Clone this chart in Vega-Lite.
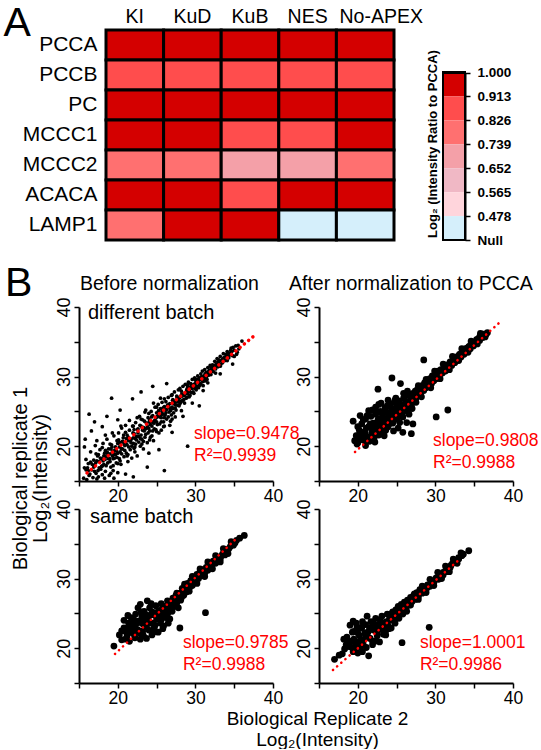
{
  "$schema": "https://vega.github.io/schema/vega-lite/v6.json",
  "padding": {"left": 3, "top": 2, "right": 0, "bottom": 0},
  "config": {
    "font": "Liberation Sans",
    "view": {"stroke": null},
    "axis": {"grid": false, "labelColor": "black", "titleColor": "black", "domainColor": "black", "tickColor": "black", "labelFont": "Liberation Sans", "titleFont": "Liberation Sans", "labelOverlap": false},
    "title": {"color": "black", "fontWeight": "normal", "font": "Liberation Sans"},
    "text": {"font": "Liberation Sans"}
  },
  "datasets": {
    "heat": [
      {"gene":"PCCA","cond":"KI","level":"0.913-1.000"},{"gene":"PCCA","cond":"KuD","level":"0.913-1.000"},{"gene":"PCCA","cond":"KuB","level":"0.913-1.000"},{"gene":"PCCA","cond":"NES","level":"0.913-1.000"},{"gene":"PCCA","cond":"No-APEX","level":"0.913-1.000"},
      {"gene":"PCCB","cond":"KI","level":"0.826-0.913"},{"gene":"PCCB","cond":"KuD","level":"0.826-0.913"},{"gene":"PCCB","cond":"KuB","level":"0.826-0.913"},{"gene":"PCCB","cond":"NES","level":"0.826-0.913"},{"gene":"PCCB","cond":"No-APEX","level":"0.826-0.913"},
      {"gene":"PC","cond":"KI","level":"0.913-1.000"},{"gene":"PC","cond":"KuD","level":"0.913-1.000"},{"gene":"PC","cond":"KuB","level":"0.913-1.000"},{"gene":"PC","cond":"NES","level":"0.913-1.000"},{"gene":"PC","cond":"No-APEX","level":"0.913-1.000"},
      {"gene":"MCCC1","cond":"KI","level":"0.913-1.000"},{"gene":"MCCC1","cond":"KuD","level":"0.913-1.000"},{"gene":"MCCC1","cond":"KuB","level":"0.826-0.913"},{"gene":"MCCC1","cond":"NES","level":"0.826-0.913"},{"gene":"MCCC1","cond":"No-APEX","level":"0.913-1.000"},
      {"gene":"MCCC2","cond":"KI","level":"0.739-0.826"},{"gene":"MCCC2","cond":"KuD","level":"0.739-0.826"},{"gene":"MCCC2","cond":"KuB","level":"0.652-0.739"},{"gene":"MCCC2","cond":"NES","level":"0.652-0.739"},{"gene":"MCCC2","cond":"No-APEX","level":"0.739-0.826"},
      {"gene":"ACACA","cond":"KI","level":"0.913-1.000"},{"gene":"ACACA","cond":"KuD","level":"0.913-1.000"},{"gene":"ACACA","cond":"KuB","level":"0.826-0.913"},{"gene":"ACACA","cond":"NES","level":"0.913-1.000"},{"gene":"ACACA","cond":"No-APEX","level":"0.913-1.000"},
      {"gene":"LAMP1","cond":"KI","level":"0.739-0.826"},{"gene":"LAMP1","cond":"KuD","level":"0.913-1.000"},{"gene":"LAMP1","cond":"KuB","level":"0.913-1.000"},{"gene":"LAMP1","cond":"NES","level":"Null"},{"gene":"LAMP1","cond":"No-APEX","level":"Null"}
    ],
    "legend": [
      {"level":"0.913-1.000","lo":0.913,"hi":1.0},
      {"level":"0.826-0.913","lo":0.826,"hi":0.913},
      {"level":"0.739-0.826","lo":0.739,"hi":0.826},
      {"level":"0.652-0.739","lo":0.652,"hi":0.739},
      {"level":"0.565-0.652","lo":0.565,"hi":0.652},
      {"level":"0.478-0.565","lo":0.478,"hi":0.565},
      {"level":"Null","lo":0.391,"hi":0.478}
    ],
    "tl": [
      {"x":15.6,"y":15.4},{"x":15.7,"y":16.9},{"x":15.9,"y":18.1},{"x":16.0,"y":15.2},{"x":16.2,"y":17.5},{"x":16.3,"y":15.8},{"x":16.5,"y":19.2},{"x":16.6,"y":16.6},{"x":16.8,"y":15.5},{"x":16.9,"y":18.0},
      {"x":17.0,"y":17.2},{"x":17.1,"y":20.1},{"x":17.2,"y":16.1},{"x":17.4,"y":18.6},{"x":17.5,"y":15.6},{"x":17.6,"y":17.8},{"x":17.7,"y":19.5},{"x":17.8,"y":16.7},{"x":17.9,"y":18.2},{"x":18.0,"y":15.9},
      {"x":18.1,"y":20.4},{"x":18.2,"y":17.4},{"x":18.3,"y":19.0},{"x":18.4,"y":16.4},{"x":18.5,"y":18.5},{"x":18.6,"y":21.0},{"x":18.7,"y":17.6},{"x":18.8,"y":19.6},{"x":18.9,"y":15.8},{"x":19.0,"y":18.9},
      {"x":19.1,"y":17.0},{"x":19.2,"y":20.2},{"x":19.3,"y":19.3},{"x":19.4,"y":16.5},{"x":19.5,"y":21.5},{"x":19.6,"y":18.3},{"x":19.7,"y":19.9},{"x":19.8,"y":17.6},{"x":19.9,"y":20.8},{"x":20.0,"y":19.0},
      {"x":20.0,"y":16.2},{"x":20.1,"y":21.9},{"x":20.2,"y":18.2},{"x":20.3,"y":20.5},{"x":20.4,"y":17.4},{"x":20.5,"y":22.6},{"x":20.6,"y":19.6},{"x":20.7,"y":21.2},{"x":20.8,"y":18.5},{"x":20.9,"y":20.1},
      {"x":21.0,"y":23.0},{"x":21.1,"y":19.0},{"x":21.2,"y":21.6},{"x":21.3,"y":17.8},{"x":21.4,"y":20.8},{"x":21.5,"y":22.3},{"x":21.6,"y":19.5},{"x":21.7,"y":21.0},{"x":21.8,"y":18.3},{"x":21.9,"y":22.9},
      {"x":22.0,"y":20.4},{"x":22.1,"y":21.8},{"x":22.2,"y":19.2},{"x":22.3,"y":23.4},{"x":22.4,"y":20.9},{"x":22.5,"y":18.6},{"x":22.6,"y":22.5},{"x":22.7,"y":21.4},{"x":22.8,"y":24.3},{"x":22.9,"y":20.0},
      {"x":23.0,"y":22.9},{"x":23.1,"y":21.0},{"x":23.2,"y":23.8},{"x":23.3,"y":19.6},{"x":23.4,"y":22.2},{"x":23.5,"y":24.9},{"x":23.6,"y":21.7},{"x":23.7,"y":23.3},{"x":23.8,"y":20.5},{"x":23.9,"y":24.1},
      {"x":24.0,"y":22.6},{"x":24.1,"y":23.8},{"x":24.2,"y":21.3},{"x":24.3,"y":25.0},{"x":24.4,"y":22.9},{"x":24.5,"y":24.4},{"x":24.6,"y":20.8},{"x":24.7,"y":23.6},{"x":24.8,"y":25.6},{"x":24.9,"y":22.4},
      {"x":25.0,"y":24.8},{"x":25.1,"y":23.1},{"x":25.2,"y":26.0},{"x":25.3,"y":21.9},{"x":25.4,"y":24.2},{"x":25.5,"y":25.4},{"x":25.6,"y":23.5},{"x":25.7,"y":26.3},{"x":25.8,"y":24.6},{"x":25.9,"y":22.8},
      {"x":26.0,"y":25.7},{"x":26.1,"y":24.5},{"x":26.2,"y":26.4},{"x":26.3,"y":23.9},{"x":26.4,"y":25.9},{"x":26.5,"y":27.0},{"x":26.6,"y":24.9},{"x":26.7,"y":26.1},{"x":26.8,"y":23.6},{"x":26.9,"y":27.3},
      {"x":27.0,"y":25.6},{"x":27.1,"y":26.7},{"x":27.2,"y":24.8},{"x":27.3,"y":27.8},{"x":27.4,"y":26.0},{"x":27.5,"y":25.2},{"x":27.6,"y":27.2},{"x":27.7,"y":26.4},{"x":27.8,"y":28.1},{"x":27.9,"y":25.8},
      {"x":28.0,"y":27.0},{"x":28.1,"y":26.3},{"x":28.2,"y":27.9},{"x":28.3,"y":27.2},{"x":28.4,"y":28.6},{"x":28.5,"y":26.7},{"x":28.6,"y":27.6},{"x":28.7,"y":28.9},{"x":28.8,"y":26.9},{"x":28.9,"y":28.2},
      {"x":29.0,"y":27.5},{"x":29.1,"y":29.2},{"x":29.2,"y":28.0},{"x":29.3,"y":27.3},{"x":29.4,"y":29.0},{"x":29.5,"y":28.4},{"x":29.6,"y":29.6},{"x":29.7,"y":27.8},{"x":29.8,"y":28.9},{"x":29.9,"y":29.8},
      {"x":30.0,"y":28.3},{"x":30.1,"y":29.5},{"x":30.2,"y":28.6},{"x":30.3,"y":30.1},{"x":30.4,"y":29.1},{"x":30.5,"y":29.8},{"x":30.6,"y":28.8},{"x":30.7,"y":30.4},{"x":30.8,"y":29.5},{"x":30.9,"y":30.8},
      {"x":31.0,"y":29.3},{"x":31.1,"y":30.1},{"x":31.2,"y":31.0},{"x":31.3,"y":29.8},{"x":31.4,"y":30.6},{"x":31.5,"y":29.6},{"x":31.6,"y":31.3},{"x":31.7,"y":30.2},{"x":31.8,"y":30.9},{"x":31.9,"y":31.6},
      {"x":32.0,"y":30.3},{"x":32.1,"y":31.0},{"x":32.2,"y":31.7},{"x":32.3,"y":30.7},{"x":32.4,"y":31.4},{"x":32.5,"y":32.2},{"x":32.6,"y":31.1},{"x":32.7,"y":31.8},{"x":32.8,"y":32.6},{"x":32.9,"y":31.4},
      {"x":33.0,"y":32.0},{"x":33.2,"y":32.9},{"x":33.3,"y":31.8},{"x":33.5,"y":32.5},{"x":33.6,"y":33.3},{"x":33.8,"y":32.3},{"x":34.0,"y":33.0},{"x":34.1,"y":33.6},{"x":34.3,"y":32.7},{"x":34.5,"y":33.4},
      {"x":34.6,"y":34.1},{"x":34.8,"y":33.0},{"x":35.0,"y":33.8},{"x":35.2,"y":34.4},{"x":35.4,"y":33.5},{"x":35.6,"y":34.0},{"x":36.0,"y":35.1},
      {"x":16.1,"y":16.9},{"x":16.4,"y":16.0},{"x":16.7,"y":17.4},{"x":17.0,"y":16.4},{"x":17.3,"y":17.9},{"x":17.6,"y":16.9},{"x":17.9,"y":17.1},{"x":18.2,"y":18.6},{"x":18.5,"y":17.2},{"x":18.8,"y":18.2},
      {"x":19.1,"y":19.6},{"x":19.4,"y":18.2},{"x":19.7,"y":18.8},{"x":20.0,"y":20.4},{"x":20.3,"y":19.2},{"x":20.6,"y":20.7},{"x":20.9,"y":19.4},{"x":21.2,"y":20.2},{"x":21.5,"y":21.0},{"x":21.8,"y":20.0},
      {"x":22.1,"y":22.4},{"x":22.4,"y":21.4},{"x":22.7,"y":20.6},{"x":23.0,"y":21.6},{"x":23.3,"y":22.7},{"x":23.6,"y":22.5},{"x":23.9,"y":21.9},{"x":24.2,"y":23.1},{"x":24.5,"y":22.2},{"x":24.8,"y":23.8},
      {"x":25.1,"y":24.3},{"x":25.4,"y":23.2},{"x":25.7,"y":25.0},{"x":26.0,"y":24.1},{"x":26.3,"y":25.3},{"x":26.6,"y":25.6},{"x":26.9,"y":24.5},{"x":27.2,"y":26.1},{"x":27.5,"y":26.6},{"x":27.8,"y":26.8},
      {"x":28.1,"y":27.2},{"x":28.4,"y":26.6},{"x":28.7,"y":27.6},{"x":29.0,"y":28.5},{"x":29.3,"y":28.4},{"x":29.6,"y":28.3},{"x":29.9,"y":28.9},{"x":30.2,"y":29.6},{"x":30.5,"y":28.7},{"x":30.8,"y":30.0},
      {"x":31.1,"y":29.7},{"x":31.4,"y":29.9},{"x":31.7,"y":30.7},{"x":32.0,"y":31.3},{"x":32.3,"y":31.2},{"x":32.6,"y":30.5},{"x":32.9,"y":32.1},{"x":33.2,"y":31.5},{"x":33.5,"y":32.0},{"x":33.8,"y":32.8},
      {"x":34.1,"y":32.3},{"x":34.4,"y":33.1},{"x":34.7,"y":33.6},{"x":35.0,"y":32.9},{"x":35.3,"y":33.2},{"x":35.5,"y":34.5},
      {"x":18.1,"y":17.9},{"x":18.4,"y":19.4},{"x":18.7,"y":18.7},{"x":19.0,"y":17.8},{"x":19.3,"y":18.6},{"x":19.6,"y":19.4},{"x":19.9,"y":18.4},{"x":20.2,"y":19.9},{"x":20.5,"y":18.9},{"x":20.8,"y":20.4},
      {"x":21.1,"y":21.1},{"x":21.4,"y":19.9},{"x":21.7,"y":20.5},{"x":22.0,"y":21.2},{"x":22.3,"y":20.3},{"x":22.6,"y":21.9},{"x":22.9,"y":21.1},{"x":23.2,"y":22.3},{"x":23.5,"y":21.3},{"x":23.8,"y":22.9},
      {"x":24.1,"y":22.2},{"x":24.4,"y":23.5},{"x":24.7,"y":22.5},{"x":25.0,"y":23.5},{"x":25.3,"y":24.6},{"x":25.6,"y":24.1},{"x":25.9,"y":23.5},{"x":26.2,"y":24.8},{"x":26.5,"y":24.2},{"x":26.8,"y":25.1},
      {"x":27.1,"y":25.4},{"x":27.4,"y":25.5},{"x":27.7,"y":25.9},{"x":28.0,"y":26.1},{"x":28.3,"y":26.5},{"x":28.6,"y":26.2},{"x":28.9,"y":27.0},{"x":29.2,"y":27.1},{"x":29.5,"y":27.7},{"x":29.8,"y":27.6},
      {"x":30.1,"y":28.1},{"x":30.4,"y":28.4},{"x":30.7,"y":29.0},{"x":31.0,"y":28.7},{"x":31.3,"y":29.4},{"x":31.6,"y":29.1},{"x":19.0,"y":20.3},{"x":20.1,"y":20.9},{"x":21.0,"y":22.0},{"x":22.0,"y":22.9},
      {"x":23.0,"y":23.9},{"x":24.0,"y":24.7},{"x":25.0,"y":25.6},{"x":26.0,"y":26.8},{"x":27.0,"y":27.4},{"x":28.0,"y":28.3},{"x":29.0,"y":28.8},{"x":30.0,"y":29.5},{"x":17.5,"y":18.8},{"x":18.0,"y":19.8},
      {"x":17.2,"y":18.9},{"x":16.9,"y":17.0},{"x":16.5,"y":17.7},{"x":16.2,"y":16.5},{"x":15.9,"y":16.6},{"x":21.3,"y":18.8},{"x":22.1,"y":19.7},{"x":23.3,"y":20.7},{"x":24.4,"y":21.5},{"x":25.6,"y":22.3},
      {"x":26.7,"y":23.0},{"x":27.4,"y":24.2},{"x":28.2,"y":25.1},{"x":20.0,"y":17.5},{"x":19.1,"y":16.1},{"x":18.3,"y":15.4},
      {"x":17.15,"y":17.6},{"x":17.45,"y":16.5},{"x":17.75,"y":18.3},{"x":18.05,"y":17.2},{"x":18.35,"y":18.1},{"x":18.65,"y":19.1},{"x":18.95,"y":18.2},{"x":19.25,"y":19.9},{"x":19.55,"y":18.9},{"x":19.85,"y":19.3},
      {"x":20.15,"y":20.5},{"x":20.45,"y":19.6},{"x":20.75,"y":21.6},{"x":21.05,"y":20.4},{"x":21.35,"y":21.3},{"x":21.65,"y":20.9},{"x":21.95,"y":21.9},{"x":22.25,"y":21.1},{"x":22.55,"y":22.4},{"x":22.85,"y":23.0},
      {"x":23.15,"y":22.6},{"x":23.45,"y":23.6},{"x":23.75,"y":22.6},{"x":24.05,"y":23.5},{"x":24.35,"y":24.2},{"x":24.65,"y":23.3},{"x":24.95,"y":24.1},{"x":25.25,"y":25.1},{"x":25.55,"y":24.5},{"x":25.85,"y":25.5},
      {"x":26.15,"y":25.2},{"x":26.45,"y":25.9},{"x":26.75,"y":25.4},{"x":27.05,"y":26.6},{"x":27.35,"y":26.3},{"x":27.65,"y":27.0},{"x":27.95,"y":26.5},{"x":28.25,"y":27.5},{"x":28.55,"y":27.3},{"x":28.85,"y":27.9},
      {"x":29.15,"y":27.8},{"x":29.45,"y":28.7},{"x":29.75,"y":28.6},{"x":30.05,"y":29.1},{"x":30.35,"y":29.4},{"x":30.65,"y":29.6},{"x":30.95,"y":29.9},{"x":31.25,"y":30.4},{"x":31.55,"y":30.5},{"x":31.85,"y":30.6},
      {"x":32.15,"y":31.3},{"x":32.45,"y":31.6},{"x":32.75,"y":31.5},{"x":33.05,"y":32.4},{"x":33.35,"y":32.3},{"x":33.65,"y":32.7},{"x":33.95,"y":33.2},{"x":34.25,"y":33.3},{"x":34.55,"y":33.8},{"x":34.85,"y":34.2},
      {"x":19.4,"y":17.2},{"x":20.3,"y":17.9},{"x":21.2,"y":18.6},{"x":22.2,"y":19.9},{"x":23.1,"y":20.3},{"x":24.1,"y":20.9},{"x":25.0,"y":22.1},{"x":26.0,"y":22.9},{"x":27.0,"y":23.9},{"x":22.5,"y":24.1},
      {"x":23.6,"y":25.2},{"x":24.6,"y":26.2},{"x":25.5,"y":26.9},{"x":21.5,"y":23.7},{"x":20.4,"y":22.9},{"x":19.3,"y":21.9},{"x":18.4,"y":21.6},{"x":17.3,"y":20.8},
      {"x":16.3,"y":24.6},{"x":17.0,"y":23.5},{"x":15.8,"y":21.0},{"x":16.6,"y":22.2},{"x":18.6,"y":24.3},{"x":20.3,"y":25.2},{"x":23.0,"y":27.8},{"x":24.5,"y":28.6},{"x":27.0,"y":22.0},{"x":25.3,"y":19.5},
      {"x":23.8,"y":17.0},{"x":22.0,"y":15.6},{"x":21.0,"y":16.0},{"x":30.5,"y":25.8},{"x":28.4,"y":24.3},{"x":31.0,"y":28.0},{"x":33.2,"y":30.4},{"x":34.8,"y":31.8},{"x":19.5,"y":15.4},{"x":18.0,"y":22.8},
      {"x":15.7,"y":19.9},{"x":17.3,"y":15.3},{"x":26.3,"y":29.0},{"x":24.0,"y":19.0},{"x":20.0,"y":23.8},{"x":29.6,"y":26.2},{"x":19.2,"y":26.9},{"x":21.9,"y":26.8},{"x":29.0,"y":20.0},{"x":26.0,"y":16.5}
    ],
    "tr": [
      {"x":19.6,"y":20.8},{"x":19.8,"y":21.5},{"x":20.0,"y":20.5},{"x":20.2,"y":22.3},{"x":20.4,"y":21.2},{"x":20.5,"y":23.2},{"x":20.7,"y":20.9},{"x":20.9,"y":22.0},{"x":21.0,"y":23.9},{"x":21.2,"y":21.4},
      {"x":21.4,"y":22.8},{"x":21.5,"y":20.7},{"x":21.7,"y":24.3},{"x":21.8,"y":22.0},{"x":22.0,"y":23.3},{"x":22.1,"y":21.2},{"x":22.3,"y":24.6},{"x":22.4,"y":22.5},{"x":22.6,"y":23.8},{"x":22.7,"y":21.6},
      {"x":22.9,"y":25.0},{"x":23.0,"y":23.0},{"x":23.2,"y":24.2},{"x":23.3,"y":22.2},{"x":23.5,"y":25.5},{"x":23.6,"y":23.6},{"x":23.8,"y":24.8},{"x":23.9,"y":22.8},{"x":24.1,"y":25.9},{"x":24.2,"y":24.0},
      {"x":24.4,"y":25.2},{"x":24.5,"y":23.3},{"x":24.7,"y":26.3},{"x":24.8,"y":24.6},{"x":25.0,"y":25.6},{"x":25.1,"y":23.9},{"x":25.3,"y":26.5},{"x":25.4,"y":25.0},{"x":25.6,"y":26.0},{"x":25.7,"y":24.6},
      {"x":25.9,"y":26.9},{"x":26.0,"y":25.6},{"x":26.2,"y":26.4},{"x":26.3,"y":25.1},{"x":26.5,"y":27.3},{"x":26.6,"y":26.1},{"x":26.8,"y":27.0},{"x":26.9,"y":25.9},{"x":27.1,"y":27.6},{"x":27.2,"y":26.6},
      {"x":27.4,"y":27.9},{"x":27.5,"y":26.9},{"x":27.7,"y":28.2},{"x":27.8,"y":27.3},{"x":28.0,"y":28.6},{"x":28.1,"y":27.6},{"x":28.3,"y":28.7},{"x":28.5,"y":28.0},{"x":28.6,"y":29.1},{"x":28.8,"y":28.4},
      {"x":29.0,"y":29.5},{"x":29.1,"y":28.7},{"x":29.3,"y":29.7},{"x":29.5,"y":29.0},{"x":29.6,"y":30.1},{"x":29.8,"y":29.4},{"x":30.0,"y":30.4},{"x":30.1,"y":29.7},{"x":30.3,"y":30.8},{"x":30.5,"y":30.1},
      {"x":30.7,"y":31.0},{"x":30.9,"y":30.5},{"x":31.1,"y":31.3},{"x":31.3,"y":30.8},{"x":31.5,"y":31.7},{"x":31.7,"y":31.2},{"x":31.9,"y":32.1},{"x":32.1,"y":31.6},{"x":32.3,"y":32.5},{"x":32.5,"y":32.0},
      {"x":32.7,"y":32.8},{"x":32.9,"y":32.4},{"x":33.1,"y":33.2},{"x":33.3,"y":32.8},{"x":33.5,"y":33.6},{"x":33.7,"y":33.2},{"x":33.9,"y":34.0},{"x":34.1,"y":33.6},{"x":34.3,"y":34.3},{"x":34.5,"y":34.0},
      {"x":34.7,"y":34.7},{"x":34.9,"y":34.4},{"x":35.1,"y":35.0},{"x":35.3,"y":34.8},{"x":35.5,"y":35.4},{"x":35.7,"y":35.2},{"x":35.9,"y":35.8},{"x":36.1,"y":35.6},{"x":36.3,"y":36.1},{"x":36.5,"y":36.0},
      {"x":36.7,"y":36.3},{"x":21.0,"y":20.1},{"x":22.2,"y":20.6},{"x":23.4,"y":21.5},{"x":24.6,"y":22.2},{"x":25.2,"y":22.6},{"x":26.3,"y":23.4},{"x":23.0,"y":26.2},{"x":22.3,"y":25.6},{"x":21.4,"y":25.1},
      {"x":20.0,"y":21.5},{"x":20.6,"y":22.0},{"x":21.1,"y":22.6},{"x":21.6,"y":23.2},{"x":22.0,"y":22.0},{"x":22.5,"y":23.2},{"x":22.9,"y":24.0},{"x":23.3,"y":23.3},{"x":23.7,"y":24.0},{"x":24.1,"y":24.6},
      {"x":24.5,"y":24.2},{"x":24.9,"y":25.1},{"x":25.3,"y":24.5},{"x":25.7,"y":25.5},{"x":26.1,"y":26.0},{"x":26.5,"y":25.8},{"x":26.9,"y":26.6},{"x":27.3,"y":27.1},{"x":27.7,"y":27.6},{"x":28.1,"y":28.1},
      {"x":28.5,"y":28.5},{"x":28.9,"y":28.9},{"x":29.3,"y":29.3},{"x":29.7,"y":29.7},{"x":30.1,"y":30.1},{"x":30.5,"y":30.5},{"x":30.9,"y":30.9},{"x":31.3,"y":31.3},{"x":31.7,"y":31.7},{"x":32.1,"y":32.1},
      {"x":32.5,"y":32.5},{"x":32.9,"y":32.9},{"x":33.3,"y":33.3},{"x":33.7,"y":33.7},{"x":34.1,"y":34.1},{"x":34.5,"y":34.5},{"x":34.9,"y":34.9},{"x":35.3,"y":35.3},{"x":35.7,"y":35.7},{"x":36.1,"y":36.1},
      {"x":23.8,"y":25.8},{"x":24.8,"y":26.6},{"x":22.6,"y":24.9},{"x":21.8,"y":21.2},{"x":23.1,"y":22.1},
      {"x":20.2,"y":20.9},{"x":20.8,"y":21.6},{"x":21.3,"y":21.0},{"x":21.9,"y":22.7},{"x":22.4,"y":21.8},{"x":22.8,"y":22.9},{"x":23.2,"y":24.7},{"x":23.6,"y":22.3},{"x":24.0,"y":23.2},{"x":24.3,"y":25.5},
      {"x":24.7,"y":23.8},{"x":25.0,"y":24.9},{"x":25.4,"y":23.4},{"x":25.8,"y":24.2},{"x":26.2,"y":25.4},{"x":26.6,"y":24.6},{"x":27.0,"y":25.4},{"x":27.5,"y":26.3},{"x":21.2,"y":24.4},{"x":21.9,"y":25.2},
      {"x":22.7,"y":26.0},{"x":20.7,"y":23.8},{"x":20.0,"y":22.8},{"x":19.9,"y":20.3},{"x":24.9,"y":26.9},{"x":25.9,"y":27.6},{"x":23.9,"y":26.6},{"x":26.4,"y":27.9},{"x":27.8,"y":28.7},{"x":28.8,"y":29.6},
      {"x":29.9,"y":30.8},{"x":31.0,"y":31.8},{"x":32.2,"y":32.9},{"x":33.4,"y":34.0},{"x":34.6,"y":35.1},{"x":35.8,"y":36.2},{"x":28.2,"y":27.1},{"x":29.4,"y":28.4},{"x":30.6,"y":29.7},{"x":31.8,"y":31.0},
      {"x":33.0,"y":32.3},{"x":34.2,"y":33.5},{"x":35.4,"y":34.7},{"x":36.4,"y":35.7},
      {"x":28.5,"y":32.4},{"x":24.4,"y":29.8},{"x":22.6,"y":28.2},{"x":25.5,"y":29.0},{"x":31.6,"y":25.2},{"x":30.1,"y":24.2},{"x":27.1,"y":23.2},{"x":26.9,"y":21.8},{"x":19.4,"y":23.6},{"x":20.3,"y":24.4},
      {"x":25.8,"y":22.0}
    ],
    "bl": [
      {"x":19.5,"y":20.3},{"x":20.2,"y":21.9},{"x":20.5,"y":22.5},{"x":20.8,"y":24.0},{"x":21.0,"y":21.3},{"x":21.2,"y":22.8},{"x":21.4,"y":23.6},{"x":21.5,"y":21.0},{"x":21.7,"y":24.4},{"x":21.9,"y":22.2},
      {"x":22.0,"y":23.2},{"x":22.2,"y":21.5},{"x":22.3,"y":24.9},{"x":22.5,"y":22.7},{"x":22.6,"y":25.8},{"x":22.8,"y":23.7},{"x":22.9,"y":21.3},{"x":23.1,"y":24.5},{"x":23.2,"y":22.4},{"x":23.4,"y":25.3},
      {"x":23.5,"y":23.4},{"x":23.7,"y":21.4},{"x":23.8,"y":24.2},{"x":24.0,"y":22.6},{"x":24.1,"y":25.8},{"x":24.3,"y":23.6},{"x":24.4,"y":21.9},{"x":24.6,"y":24.8},{"x":24.7,"y":22.9},{"x":24.9,"y":26.1},
      {"x":25.0,"y":24.2},{"x":25.2,"y":22.3},{"x":25.3,"y":25.4},{"x":25.5,"y":23.6},{"x":25.6,"y":26.4},{"x":25.8,"y":24.8},{"x":25.9,"y":23.2},{"x":26.1,"y":25.9},{"x":26.2,"y":24.4},{"x":26.4,"y":26.8},
      {"x":26.5,"y":25.2},{"x":26.7,"y":24.2},{"x":26.8,"y":26.3},{"x":27.0,"y":25.3},{"x":27.1,"y":27.2},{"x":27.3,"y":26.0},{"x":27.5,"y":27.6},{"x":27.6,"y":26.5},{"x":27.8,"y":25.8},{"x":28.0,"y":27.9},
      {"x":28.1,"y":26.9},{"x":28.3,"y":28.6},{"x":28.5,"y":27.6},{"x":28.7,"y":28.9},{"x":28.9,"y":28.1},{"x":29.0,"y":29.3},{"x":29.2,"y":28.6},{"x":29.4,"y":29.7},{"x":29.6,"y":29.0},{"x":29.8,"y":30.2},
      {"x":30.0,"y":29.6},{"x":30.2,"y":30.6},{"x":30.4,"y":30.0},{"x":30.6,"y":31.0},{"x":30.8,"y":30.4},{"x":31.0,"y":31.3},{"x":31.2,"y":30.8},{"x":31.4,"y":31.6},{"x":31.6,"y":31.2},{"x":31.8,"y":32.0},
      {"x":32.0,"y":31.6},{"x":32.3,"y":32.5},{"x":32.6,"y":32.2},{"x":32.9,"y":33.0},{"x":33.2,"y":32.8},{"x":33.5,"y":33.5},{"x":33.8,"y":33.4},{"x":34.1,"y":34.2},{"x":34.5,"y":34.6},{"x":34.9,"y":34.8},
      {"x":35.3,"y":35.5},{"x":36.3,"y":36.2},
      {"x":20.5,"y":21.2},{"x":21.0,"y":22.4},{"x":21.5,"y":22.5},{"x":21.8,"y":23.5},{"x":22.2,"y":22.8},{"x":22.6,"y":23.9},{"x":23.0,"y":22.5},{"x":23.4,"y":24.1},{"x":23.7,"y":23.0},{"x":24.1,"y":24.7},
      {"x":24.5,"y":23.6},{"x":24.9,"y":25.1},{"x":25.3,"y":24.4},{"x":25.7,"y":25.6},{"x":26.1,"y":25.2},{"x":26.5,"y":26.0},{"x":26.9,"y":26.6},{"x":27.3,"y":26.9},{"x":27.7,"y":27.3},{"x":28.1,"y":27.8},
      {"x":28.5,"y":28.2},{"x":28.9,"y":28.7},{"x":29.3,"y":29.1},{"x":29.7,"y":29.5},{"x":30.1,"y":30.1},{"x":30.5,"y":30.5},{"x":30.9,"y":30.9},{"x":31.3,"y":31.2},{"x":31.7,"y":31.7},{"x":32.1,"y":32.0},
      {"x":32.5,"y":32.5},{"x":32.9,"y":32.8},{"x":33.3,"y":33.2},{"x":33.7,"y":33.8},{"x":34.3,"y":34.3},{"x":34.7,"y":34.9},{"x":35.1,"y":35.1},{"x":35.7,"y":35.8},{"x":22.0,"y":24.3},{"x":23.0,"y":25.2},
      {"x":24.3,"y":26.4},
      {"x":20.8,"y":22.9},{"x":21.2,"y":21.8},{"x":21.6,"y":23.1},{"x":22.1,"y":22.0},{"x":22.4,"y":23.6},{"x":22.8,"y":22.2},{"x":23.2,"y":23.5},{"x":23.6,"y":24.8},{"x":24.0,"y":23.9},{"x":24.4,"y":25.2},
      {"x":24.8,"y":23.3},{"x":25.2,"y":24.9},{"x":25.6,"y":24.1},{"x":26.0,"y":26.0},{"x":26.4,"y":24.9},{"x":26.8,"y":25.6},{"x":27.2,"y":26.5},{"x":23.3,"y":21.8},{"x":24.6,"y":22.3},{"x":25.8,"y":22.8},
      {"x":26.5,"y":23.6},{"x":21.3,"y":24.7},{"x":22.9,"y":26.3},{"x":23.8,"y":26.8},{"x":27.6,"y":27.9},{"x":28.6,"y":29.2},{"x":29.6,"y":30.3},{"x":30.6,"y":31.4},{"x":31.6,"y":32.4},{"x":32.6,"y":33.3},
      {"x":33.6,"y":34.3},{"x":34.6,"y":35.3},{"x":28.2,"y":27.3},{"x":29.2,"y":28.2},{"x":30.2,"y":29.3},{"x":31.2,"y":30.3},{"x":32.2,"y":31.4},{"x":33.2,"y":32.4},{"x":34.2,"y":33.6},
      {"x":31.3,"y":25.1},{"x":28.0,"y":22.9}
    ],
    "br": [
      {"x":17.0,"y":18.4},{"x":18.3,"y":19.9},{"x":18.6,"y":21.6},{"x":18.8,"y":20.3},{"x":19.0,"y":23.3},{"x":19.2,"y":21.0},{"x":19.4,"y":19.5},{"x":19.5,"y":22.4},{"x":19.7,"y":20.6},{"x":19.9,"y":23.0},
      {"x":20.0,"y":19.3},{"x":20.2,"y":21.8},{"x":20.3,"y":20.2},{"x":20.5,"y":22.9},{"x":20.6,"y":19.5},{"x":20.8,"y":21.2},{"x":21.0,"y":23.4},{"x":21.1,"y":20.1},{"x":21.3,"y":22.3},{"x":21.4,"y":18.9},
      {"x":21.6,"y":21.4},{"x":21.7,"y":23.8},{"x":21.9,"y":20.5},{"x":22.0,"y":22.6},{"x":22.2,"y":21.0},{"x":22.3,"y":24.3},{"x":22.5,"y":21.8},{"x":22.6,"y":23.2},{"x":22.8,"y":20.9},{"x":23.0,"y":22.7},
      {"x":23.1,"y":24.6},{"x":23.3,"y":22.0},{"x":23.4,"y":23.6},{"x":23.6,"y":22.5},{"x":23.8,"y":24.9},{"x":23.9,"y":23.2},{"x":24.1,"y":24.3},{"x":24.3,"y":22.9},{"x":24.5,"y":25.2},{"x":24.7,"y":24.0},
      {"x":24.9,"y":25.5},{"x":25.0,"y":24.4},{"x":25.2,"y":26.0},{"x":25.4,"y":25.0},{"x":25.6,"y":26.3},{"x":25.8,"y":25.4},{"x":26.0,"y":26.6},{"x":26.2,"y":25.8},{"x":26.4,"y":26.9},{"x":26.6,"y":26.2},
      {"x":26.8,"y":27.3},{"x":27.0,"y":26.7},{"x":27.2,"y":27.6},{"x":27.4,"y":27.0},{"x":27.6,"y":28.0},{"x":27.8,"y":27.4},{"x":28.0,"y":28.4},{"x":28.3,"y":27.9},{"x":28.5,"y":28.8},{"x":28.8,"y":28.4},
      {"x":29.0,"y":29.1},{"x":29.3,"y":28.9},{"x":29.5,"y":29.6},{"x":29.8,"y":29.4},{"x":30.1,"y":30.1},{"x":30.4,"y":29.9},{"x":30.7,"y":30.6},{"x":31.0,"y":30.5},{"x":31.3,"y":31.1},{"x":31.6,"y":31.0},
      {"x":31.9,"y":31.6},{"x":32.2,"y":32.2},{"x":32.6,"y":32.3},{"x":33.0,"y":33.0},{"x":33.4,"y":33.3},{"x":34.3,"y":34.0},
      {"x":18.5,"y":20.5},{"x":19.0,"y":20.2},{"x":19.5,"y":21.3},{"x":20.0,"y":22.2},{"x":20.4,"y":21.0},{"x":20.9,"y":22.2},{"x":21.4,"y":21.5},{"x":21.8,"y":22.9},{"x":22.3,"y":22.5},{"x":22.8,"y":23.5},
      {"x":23.2,"y":23.0},{"x":23.7,"y":23.8},{"x":24.2,"y":24.0},{"x":24.6,"y":24.5},{"x":25.1,"y":25.0},{"x":25.5,"y":25.6},{"x":26.0,"y":25.9},{"x":26.5,"y":26.5},{"x":27.0,"y":27.1},{"x":27.5,"y":27.5},
      {"x":28.0,"y":27.9},{"x":28.5,"y":28.4},{"x":29.0,"y":28.8},{"x":29.5,"y":29.4},{"x":30.0,"y":29.9},{"x":30.5,"y":30.3},{"x":31.0,"y":30.9},{"x":31.5,"y":31.4},{"x":32.0,"y":31.9},{"x":32.5,"y":32.5},
      {"x":33.0,"y":32.8},{"x":33.6,"y":33.5},{"x":19.8,"y":23.6},{"x":20.6,"y":23.8},{"x":21.2,"y":24.6},
      {"x":18.0,"y":19.2},{"x":18.9,"y":21.0},{"x":19.3,"y":22.3},{"x":19.6,"y":20.0},{"x":20.1,"y":20.9},{"x":20.4,"y":23.0},{"x":20.7,"y":20.5},{"x":21.0,"y":21.8},{"x":21.5,"y":22.9},{"x":21.9,"y":21.0},
      {"x":22.1,"y":23.5},{"x":22.5,"y":22.2},{"x":22.9,"y":24.1},{"x":23.3,"y":23.3},{"x":23.6,"y":21.9},{"x":24.0,"y":22.8},{"x":24.4,"y":25.0},{"x":24.8,"y":23.6},{"x":25.3,"y":24.3},{"x":25.8,"y":24.9},
      {"x":26.3,"y":25.3},{"x":19.4,"y":23.9},{"x":18.2,"y":21.3},{"x":17.6,"y":19.0},{"x":26.8,"y":26.2},{"x":27.8,"y":27.0},{"x":28.8,"y":28.0},{"x":29.8,"y":29.0},{"x":30.8,"y":30.0},{"x":31.8,"y":31.0},
      {"x":32.8,"y":32.2},{"x":27.3,"y":27.8},{"x":28.3,"y":28.9},{"x":29.3,"y":29.9},{"x":30.3,"y":30.9},{"x":31.3,"y":31.8},{"x":32.3,"y":32.8},{"x":33.3,"y":33.7},
      {"x":29.2,"y":23.0},{"x":25.7,"y":20.8}
    ],
    "tl_fit": [{"x":16.03,"y":16.15},{"x":37.55,"y":35.83}],
    "tr_fit": [{"x":19.64,"y":19.17},{"x":38.3,"y":37.8}],
    "bl_fit": [{"x":19.64,"y":19.17},{"x":35.49,"y":35.98}],
    "br_fit": [{"x":16.8,"y":16.87},{"x":33.17,"y":32.82}]
  },
  "vconcat": [
    {
      "width": 386,
      "height": 210,
      "title": {"text": "B", "orient": "bottom", "anchor": "start", "frame": "group", "dx": -74, "offset": 17, "fontSize": 41},
      "layer": [
        {
          "data": {"name": "heat"},
          "mark": {"type": "rect", "stroke": "black", "strokeWidth": 3},
          "encoding": {
            "x": {"field": "cond", "type": "nominal", "sort": ["KI","KuD","KuB","NES","No-APEX"],
                  "scale": {"range": [27, 315], "paddingInner": 0, "paddingOuter": 0},
                  "axis": {"orient": "top", "title": null, "labelAngle": 0, "domain": false, "ticks": false, "tickSize": 0, "labelFontSize": 19.5, "labelPadding": 4,
                           "labelOffset": {"condition": {"test": "datum.value === 'No-APEX'", "value": 16}, "value": 0}}},
            "y": {"field": "gene", "type": "nominal", "sort": ["PCCA","PCCB","PC","MCCC1","MCCC2","ACACA","LAMP1"],
                  "scale": {"range": [0, 210], "paddingInner": 0, "paddingOuter": 0},
                  "axis": {"orient": "left", "offset": -27, "domain": false, "ticks": false, "tickSize": 0, "labelFontSize": 21, "labelPadding": 9,
                           "title": "A", "titleAngle": 0, "titleAlign": "left", "titleBaseline": "alphabetic", "titleX": -103, "titleY": 5, "titleFontSize": 41, "titleFontWeight": "normal"}},
            "color": {"field": "level", "type": "nominal",
                      "scale": {"domain": ["0.913-1.000","0.826-0.913","0.739-0.826","0.652-0.739","0.565-0.652","0.478-0.565","Null"],
                                "range": ["#D40000","#FF4D4D","#FF7070","#F4A0A8","#F0B8C5","#FFD5DC","#D5EFFB"]},
                      "legend": null}
          }
        },
        {
          "data": {"name": "legend"},
          "layer": [
            {
              "mark": {"type": "rect"},
              "encoding": {
                "x": {"datum": 0, "type": "quantitative", "scale": {"domain": [0, 1], "range": [364, 386]}, "axis": null},
                "x2": {"datum": 1},
                "y": {"field": "lo", "type": "quantitative", "scale": {"domain": [0.391, 1.0], "range": [210, 42.5], "nice": false, "zero": false},
                      "axis": {"orient": "right", "values": [0.391,0.478,0.565,0.652,0.739,0.826,0.913,1.0], "tickCount": 20,
                               "labelExpr": "datum.value < 0.4 ? 'Null' : format(datum.value, '.3f')",
                               "labelFontSize": 13.5, "labelFontWeight": "bold", "labelPadding": 7, "labelOverlap": false, "labelBaseline": "middle",
                               "tickSize": 5, "tickWidth": 1.5, "domainWidth": 2,
                               "title": "Log₂ (Intensity Ratio to PCCA)", "titleAngle": 270, "titleAlign": "center", "titleBaseline": "middle",
                               "titleX": -33, "titleY": 113.5, "titleFontSize": 13, "titleFontWeight": "bold"}},
                "y2": {"field": "hi"},
                "color": {"field": "level", "type": "nominal", "legend": null}
              }
            },
            {
              "mark": {"type": "rect", "fillOpacity": 0, "stroke": "black", "strokeWidth": 2},
              "encoding": {
                "x": {"datum": 0, "type": "quantitative"},
                "x2": {"datum": 1},
                "y": {"datum": 0.391, "type": "quantitative"},
                "y2": {"datum": 1.0}
              }
            }
          ]
        }
      ],
      "resolve": {"scale": {"x": "independent", "y": "independent"}}
    },
    {
      "concat": [
        {
          "width": 194, "height": 174,
          "title": {"text": "Before normalization", "anchor": "start", "frame": "group", "fontSize": 19.5, "offset": 2, "dx": 1},
          "layer": [
            {
              "data": {"name": "tl"},
              "mark": {"type": "circle", "size": 14, "color": "black", "opacity": 1},
              "encoding": {
                "x": {"field": "x", "type": "quantitative", "scale": {"domain": [15, 40], "nice": false, "zero": false},
                      "axis": {"values": [15,20,25,30,35,40], "tickCount": 20, "labelExpr": "datum.value % 10 === 0 ? datum.label : ''", "labelFontSize": 17.5, "labelPadding": 1, "labelFlush": false, "labelOverlap": false, "tickSize": 5, "tickWidth": 1.5, "domainWidth": 2, "title": null}},
                "y": {"field": "y", "type": "quantitative", "scale": {"domain": [15, 40], "nice": false, "zero": false},
                      "axis": {"values": [15,20,25,30,35,40], "tickCount": 20, "labelExpr": "datum.value % 10 === 0 ? datum.label : ''", "labelAngle": 270, "labelAlign": "center", "labelBaseline": "bottom", "labelFontSize": 18, "labelPadding": 1, "labelOverlap": false, "tickSize": 5, "tickWidth": 1.5, "domainWidth": 2, "title": null}}
              }
            },
            {
              "data": {"name": "tl_fit"},
              "mark": {"type": "line", "color": "#FF0000", "strokeWidth": 3.5, "strokeDash": [0.1, 5.4], "strokeCap": "round"},
              "encoding": {"x": {"field": "x", "type": "quantitative"}, "y": {"field": "y", "type": "quantitative"}}
            },
            {
              "data": {"values": [{"t": "different batch"}]},
              "mark": {"type": "text", "align": "left", "baseline": "alphabetic", "fontSize": 20, "color": "black"},
              "encoding": {"x": {"datum": 16.16, "type": "quantitative"}, "y": {"datum": 38.28, "type": "quantitative"}, "text": {"field": "t"}}
            },
            {
              "data": {"values": [{"t": "slope=0.9478\nR²=0.9939"}]},
              "mark": {"type": "text", "align": "left", "baseline": "alphabetic", "fontSize": 17.5, "lineHeight": 22, "lineBreak": "\n", "color": "#FF0000"},
              "encoding": {"x": {"datum": 29.82, "type": "quantitative"}, "y": {"datum": 21.03, "type": "quantitative"}, "text": {"field": "t"}}
            }
          ]
        },
        {
          "width": 194, "height": 174,
          "title": {"text": "After normalization to PCCA", "anchor": "start", "frame": "group", "fontSize": 19.5, "offset": 2, "dx": -30},
          "layer": [
            {
              "data": {"name": "tr"},
              "mark": {"type": "circle", "size": 46, "color": "black", "opacity": 1},
              "encoding": {
                "x": {"field": "x", "type": "quantitative", "scale": {"domain": [15, 40], "nice": false, "zero": false},
                      "axis": {"values": [15,20,25,30,35,40], "tickCount": 20, "labelExpr": "datum.value % 10 === 0 ? datum.label : ''", "labelFontSize": 17.5, "labelPadding": 1, "labelFlush": false, "labelOverlap": false, "tickSize": 5, "tickWidth": 1.5, "domainWidth": 2, "title": null}},
                "y": {"field": "y", "type": "quantitative", "scale": {"domain": [15, 40], "nice": false, "zero": false},
                      "axis": {"values": [15,20,25,30,35,40], "tickCount": 20, "labelExpr": "datum.value % 10 === 0 ? datum.label : ''", "labelAngle": 270, "labelAlign": "center", "labelBaseline": "bottom", "labelFontSize": 18, "labelPadding": 1, "labelOverlap": false, "tickSize": 5, "tickWidth": 1.5, "domainWidth": 2, "title": null}}
              }
            },
            {
              "data": {"name": "tr_fit"},
              "mark": {"type": "line", "color": "#FF0000", "strokeWidth": 2.6, "strokeDash": [0.1, 5.4], "strokeCap": "round"},
              "encoding": {"x": {"field": "x", "type": "quantitative"}, "y": {"field": "y", "type": "quantitative"}}
            },
            {
              "data": {"values": [{"t": "slope=0.9808\nR²=0.9988"}]},
              "mark": {"type": "text", "align": "left", "baseline": "alphabetic", "fontSize": 17.5, "lineHeight": 22, "lineBreak": "\n", "color": "#FF0000"},
              "encoding": {"x": {"datum": 29.69, "type": "quantitative"}, "y": {"datum": 20.03, "type": "quantitative"}, "text": {"field": "t"}}
            }
          ]
        },
        {
          "width": 194, "height": 174,
          "layer": [
            {
              "data": {"name": "bl"},
              "mark": {"type": "circle", "size": 46, "color": "black", "opacity": 1},
              "encoding": {
                "x": {"field": "x", "type": "quantitative", "scale": {"domain": [15, 40], "nice": false, "zero": false},
                      "axis": {"values": [15,20,25,30,35,40], "tickCount": 20, "labelExpr": "datum.value % 10 === 0 ? datum.label : ''", "labelFontSize": 17.5, "labelPadding": 1, "labelFlush": false, "labelOverlap": false, "tickSize": 5, "tickWidth": 1.5, "domainWidth": 2,
                               "title": ["Biological Replicate 2", "Log₂(Intensity)"], "titleAngle": 0, "titleAlign": "center", "titleBaseline": "alphabetic", "titleX": 238, "titleY": 41, "titleFontSize": 19, "titleFontWeight": "normal", "titleLineHeight": 21}},
                "y": {"field": "y", "type": "quantitative", "scale": {"domain": [15, 40], "nice": false, "zero": false},
                      "axis": {"values": [15,20,25,30,35,40], "tickCount": 20, "labelExpr": "datum.value % 10 === 0 ? datum.label : ''", "labelAngle": 270, "labelAlign": "center", "labelBaseline": "bottom", "labelFontSize": 18, "labelPadding": 1, "labelOverlap": false, "tickSize": 5, "tickWidth": 1.5, "domainWidth": 2,
                               "title": ["Biological replicate 1", "Log₂(Intensity)"], "titleAngle": 270, "titleAlign": "center", "titleBaseline": "top", "titleX": -69, "titleY": -31, "titleFontSize": 20, "titleFontWeight": "normal", "titleLineHeight": 20}}
              }
            },
            {
              "data": {"name": "bl_fit"},
              "mark": {"type": "line", "color": "#FF0000", "strokeWidth": 2.6, "strokeDash": [0.1, 5.4], "strokeCap": "round"},
              "encoding": {"x": {"field": "x", "type": "quantitative"}, "y": {"field": "y", "type": "quantitative"}}
            },
            {
              "data": {"values": [{"t": "same batch"}]},
              "mark": {"type": "text", "align": "left", "baseline": "alphabetic", "fontSize": 20, "color": "black"},
              "encoding": {"x": {"datum": 16.42, "type": "quantitative"}, "y": {"datum": 37.99, "type": "quantitative"}, "text": {"field": "t"}}
            },
            {
              "data": {"values": [{"t": "slope=0.9785\nR²=0.9988"}]},
              "mark": {"type": "text", "align": "left", "baseline": "alphabetic", "fontSize": 17.5, "lineHeight": 22, "lineBreak": "\n", "color": "#FF0000"},
              "encoding": {"x": {"datum": 28.4, "type": "quantitative"}, "y": {"datum": 20.03, "type": "quantitative"}, "text": {"field": "t"}}
            }
          ]
        },
        {
          "width": 194, "height": 174,
          "layer": [
            {
              "data": {"name": "br"},
              "mark": {"type": "circle", "size": 46, "color": "black", "opacity": 1},
              "encoding": {
                "x": {"field": "x", "type": "quantitative", "scale": {"domain": [15, 40], "nice": false, "zero": false},
                      "axis": {"values": [15,20,25,30,35,40], "tickCount": 20, "labelExpr": "datum.value % 10 === 0 ? datum.label : ''", "labelFontSize": 17.5, "labelPadding": 1, "labelFlush": false, "labelOverlap": false, "tickSize": 5, "tickWidth": 1.5, "domainWidth": 2, "title": null}},
                "y": {"field": "y", "type": "quantitative", "scale": {"domain": [15, 40], "nice": false, "zero": false},
                      "axis": {"values": [15,20,25,30,35,40], "tickCount": 20, "labelExpr": "datum.value % 10 === 0 ? datum.label : ''", "labelAngle": 270, "labelAlign": "center", "labelBaseline": "bottom", "labelFontSize": 18, "labelPadding": 1, "labelOverlap": false, "tickSize": 5, "tickWidth": 1.5, "domainWidth": 2, "title": null}}
              }
            },
            {
              "data": {"name": "br_fit"},
              "mark": {"type": "line", "color": "#FF0000", "strokeWidth": 2.6, "strokeDash": [0.1, 5.4], "strokeCap": "round"},
              "encoding": {"x": {"field": "x", "type": "quantitative"}, "y": {"field": "y", "type": "quantitative"}}
            },
            {
              "data": {"values": [{"t": "slope=1.0001\nR²=0.9986"}]},
              "mark": {"type": "text", "align": "left", "baseline": "alphabetic", "fontSize": 17.5, "lineHeight": 22, "lineBreak": "\n", "color": "#FF0000"},
              "encoding": {"x": {"datum": 28.0, "type": "quantitative"}, "y": {"datum": 20.03, "type": "quantitative"}, "text": {"field": "t"}}
            }
          ]
        }
      ],
      "columns": 2,
      "bounds": "flush",
      "spacing": {"row": 28, "column": 46}
    }
  ],
  "bounds": "flush",
  "spacing": 67
}
